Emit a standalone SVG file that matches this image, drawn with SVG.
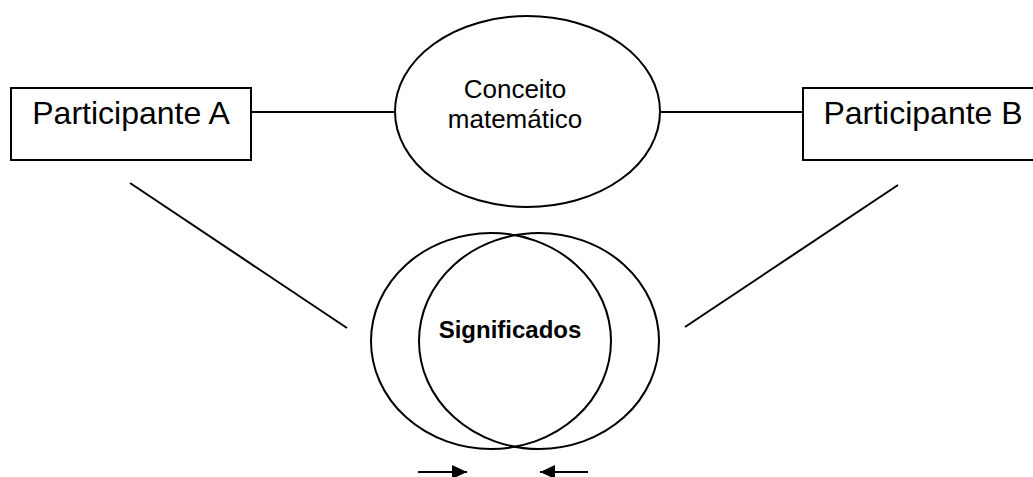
<svg xmlns="http://www.w3.org/2000/svg" width="1033" height="477" viewBox="0 0 1033 477">
<style>
.s{fill:none;stroke:#000;stroke-width:2}
.b{fill:#fff;stroke:#000;stroke-width:2}
.t{font-family:"Liberation Sans",Arial,sans-serif;fill:#000;text-anchor:middle}
</style>
<defs>
<marker id="ah" viewBox="0 0 10 10" refX="10" refY="5" markerWidth="15" markerHeight="14" markerUnits="userSpaceOnUse" orient="auto" preserveAspectRatio="none">
<path d="M0,0 L10,5 L0,10 z" fill="#000"/>
</marker>
</defs>
<rect width="1033" height="477" fill="#fff"/>
<g id="connectors">
<line class="s" x1="251" y1="112" x2="395" y2="112"/>
<line class="s" x1="660" y1="112" x2="803" y2="112"/>
<line class="s" x1="130" y1="183" x2="347" y2="328"/>
<line class="s" x1="898" y1="185" x2="685" y2="327"/>
<line class="s" x1="418" y1="472" x2="467" y2="472" marker-end="url(#ah)"/>
<line class="s" x1="588" y1="472" x2="540" y2="472" marker-end="url(#ah)"/>
</g>
<g id="participanteA">
<rect class="b" x="11" y="88" width="240" height="72"/>
<text class="t" x="131" y="124" font-size="32">Participante A</text>
</g>
<g id="conceito">
<ellipse class="b" cx="527.5" cy="111.5" rx="132.5" ry="95.5"/>
<text class="t" x="515" y="98" font-size="26">Conceito</text>
<text class="t" x="515" y="128" font-size="26">matemático</text>
</g>
<g id="participanteB">
<rect class="b" x="803" y="88" width="240" height="72"/>
<text class="t" x="923" y="124" font-size="32">Participante B</text>
</g>
<g id="significados">
<ellipse class="s" cx="491" cy="341" rx="120" ry="108"/>
<ellipse class="s" cx="539" cy="341" rx="120" ry="108"/>
<text class="t" x="510" y="338" font-size="24" font-weight="bold">Significados</text>
</g>
</svg>
